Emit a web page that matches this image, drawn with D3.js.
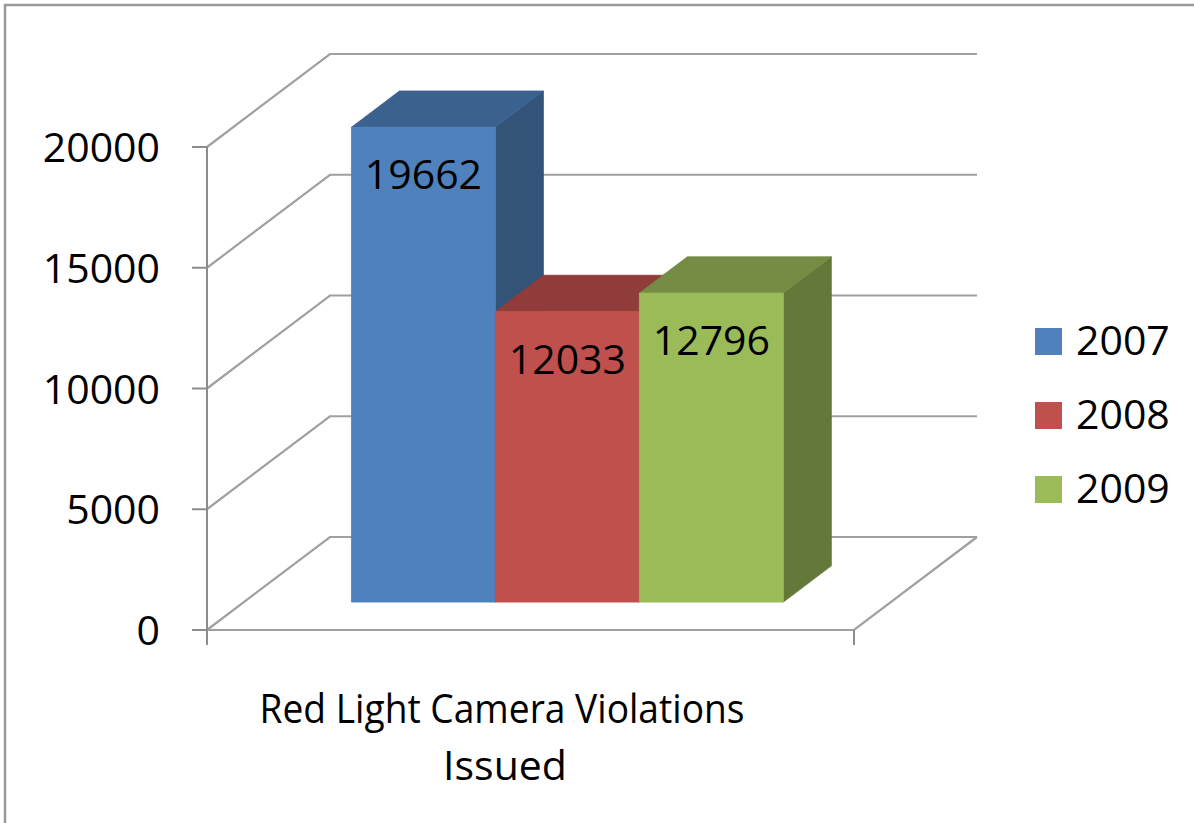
<!DOCTYPE html>
<html>
<head>
<meta charset="utf-8">
<script src="https://cdn.jsdelivr.net/npm/d3@7"></script>
<style>
  html, body { margin: 0; padding: 0; background: #fff; overflow: hidden; }
  text { font-family: "Open Sans", "Noto Sans", sans-serif; fill: #000; }
</style>
</head>
<body>
<svg id="chart"></svg>
<script>
const categories = ["Red Light Camera Violations Issued"];
const seriesNames = ["2007", "2008", "2009"];
const seriesValues = [19662, 12033, 12796];
const yTicks = [0, 5000, 10000, 15000, 20000];
const seriesColors = ["#4F81BD", "#C0504D", "#9BBB59"];

const width = 1194, height = 823;
const fontSize = 41;

// 3d depth of the plot box, and where the bars sit inside it
const DX = 123, DY = -93;
const zFront = 0.30, zBack = 0.69;

const svg = d3.select("#chart")
    .attr("width", width)
    .attr("height", height);

// chart area border (only top/left visible in the picture)
svg.append("rect")
    .attr("x", 5).attr("y", 5)
    .attr("width", width + 20).attr("height", height + 20)
    .attr("fill", "none")
    .attr("stroke", "#9a9a9a")
    .attr("stroke-width", 2.5);

const y = d3.scaleLinear().domain([0, 20000]).range([630, 147]);
const x0 = d3.scaleBand().domain(categories).range([207, 854])
    .paddingInner(0).paddingOuter(0.249);
const x1 = d3.scaleBand().domain(seriesNames).range([0, x0.bandwidth()]);

function proj(px, py, z) {
    return [px + DX * z, py + DY * z];
}

const xl = x0.range()[0], xr = x0.range()[1];
const y0 = y(0);
const line = d3.line();

// walls: gridlines on side wall + back wall
const grid = svg.append("g");
yTicks.forEach(t => {
    grid.append("path")
        .attr("d", line([proj(xl, y(t), 0), proj(xl, y(t), 1), proj(xr, y(t), 1)]))
        .attr("fill", "none")
        .attr("stroke", "#a0a0a0")
        .attr("stroke-width", 2.2);
});

// floor front + right edge
grid.append("path")
    .attr("d", line([proj(xl, y0, 0), proj(xr, y0, 0), proj(xr, y0, 1)]))
    .attr("fill", "none")
    .attr("stroke", "#a0a0a0")
    .attr("stroke-width", 2.2);

// value axis
const axis = svg.append("g");
axis.append("path")
    .attr("d", line([[xl, y(20000)], [xl, y0 + 15]]))
    .attr("stroke", "#8c8c8c").attr("stroke-width", 2).attr("fill", "none");
axis.append("path")
    .attr("d", line([[xr, y0], [xr, y0 + 15]]))
    .attr("stroke", "#8c8c8c").attr("stroke-width", 2).attr("fill", "none");
axis.selectAll(".tick")
    .data(yTicks)
    .enter().append("path")
    .attr("d", d => line([[xl - 15, y(d)], [xl, y(d)]]))
    .attr("stroke", "#8c8c8c").attr("stroke-width", 2);
axis.selectAll(".lbl")
    .data(yTicks)
    .enter().append("text")
    .attr("x", 160)
    .attr("y", d => y(d) + 15)
    .attr("text-anchor", "end")
    .style("font-size", fontSize + "px")
    .text(d => d);

// bars, drawn left to right so the later ones hide earlier side faces
function shade(c, k) {
    const r = d3.rgb(c);
    return d3.rgb(r.r * k, r.g * k, r.b * k).formatHex();
}

const bars = svg.append("g");
seriesNames.forEach((name, i) => {
    const v = seriesValues[i];
    const xa = x0(categories[0]) + x1(name);
    const xb = xa + x1.bandwidth();
    const yt = y(v);
    const f = [proj(xa, yt, zFront), proj(xb, yt, zFront), proj(xb, y0, zFront), proj(xa, y0, zFront)];
    const top = [proj(xa, yt, zFront), proj(xa, yt, zBack), proj(xb, yt, zBack), proj(xb, yt, zFront)];
    const side = [proj(xb, yt, zFront), proj(xb, yt, zBack), proj(xb, y0, zBack), proj(xb, y0, zFront)];
    const col = seriesColors[i];
    const g = bars.append("g");
    [[side, shade(col, 0.64)], [top, shade(col, 0.75)], [f, col]].forEach(([pts, c]) => {
        g.append("path")
            .attr("d", line(pts) + "Z")
            .attr("fill", c)
            .attr("stroke", c)
            .attr("stroke-width", 0.8);
    });
    g.append("text")
        .attr("x", (f[0][0] + f[1][0]) / 2)
        .attr("y", f[0][1] + 62)
        .attr("text-anchor", "middle")
        .style("font-size", fontSize + "px")
        .text(v);
});

// category label (two lines); first line squeezed to the narrower original face
svg.append("text")
    .attr("x", 502)
    .attr("y", 723)
    .attr("text-anchor", "middle")
    .attr("textLength", 485)
    .attr("lengthAdjust", "spacingAndGlyphs")
    .style("font-size", fontSize + "px")
    .text("Red Light Camera Violations");
svg.append("text")
    .attr("x", 505)
    .attr("y", 780)
    .attr("text-anchor", "middle")
    .style("font-size", fontSize + "px")
    .text("Issued");

// legend
const legend = svg.append("g");
seriesNames.forEach((name, i) => {
    const cy = 341.5 + i * 74;
    legend.append("rect")
        .attr("x", 1035).attr("y", cy - 13.5)
        .attr("width", 27).attr("height", 27)
        .attr("fill", seriesColors[i]);
    legend.append("text")
        .attr("x", 1076).attr("y", cy + 13.5)
        .style("font-size", fontSize + "px")
        .text(name);
});
</script>
</body>
</html>
